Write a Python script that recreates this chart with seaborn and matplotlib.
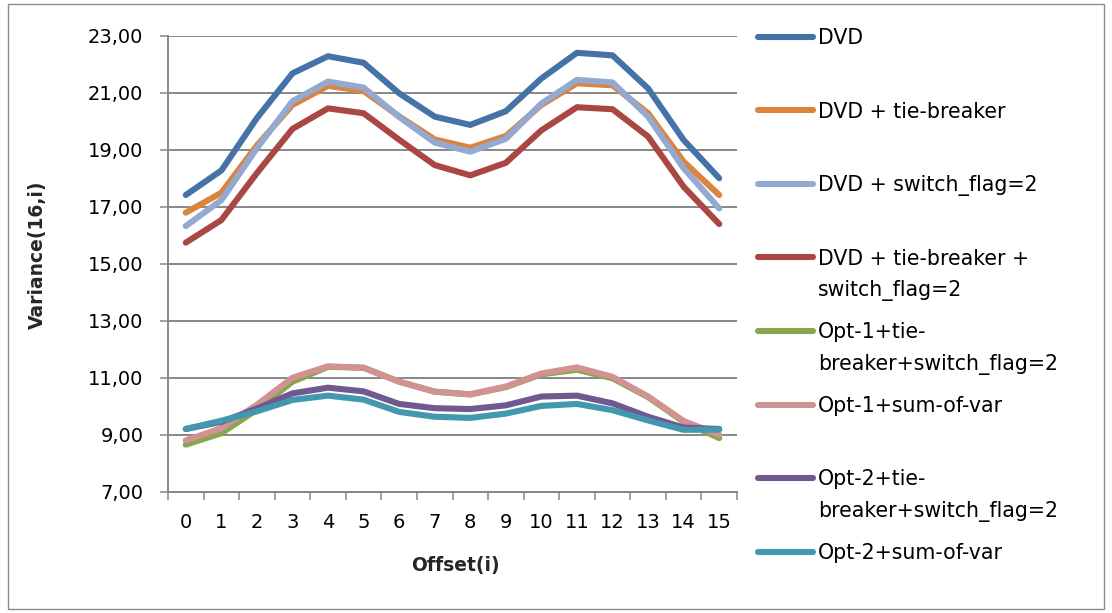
import numpy as np
import pandas as pd
import seaborn as sns
import matplotlib.pyplot as plt
from matplotlib.lines import Line2D
from matplotlib.patches import Rectangle
from matplotlib.ticker import FuncFormatter, FixedLocator

# ---- data ----
offsets = list(range(16))
series_names = [
    "DVD",
    "DVD + tie-breaker",
    "DVD + switch_flag=2",
    "DVD + tie-breaker +\nswitch_flag=2",
    "Opt-1+tie-\nbreaker+switch_flag=2",
    "Opt-1+sum-of-var",
    "Opt-2+tie-\nbreaker+switch_flag=2",
    "Opt-2+sum-of-var",
]
dvd = [17.41, 18.27, 20.11, 21.68, 22.28, 22.05, 20.98, 20.16, 19.87, 20.35, 21.50, 22.40, 22.31, 21.15, 19.34, 18.00]
dvd_tie = [16.79, 17.49, 19.15, 20.57, 21.24, 21.06, 20.17, 19.36, 19.07, 19.48, 20.57, 21.33, 21.26, 20.28, 18.58, 17.41]
dvd_switch = [16.32, 17.23, 19.05, 20.70, 21.39, 21.18, 20.15, 19.25, 18.93, 19.38, 20.62, 21.45, 21.36, 20.16, 18.35, 16.94]
dvd_tie_switch = [15.74, 16.53, 18.18, 19.73, 20.45, 20.28, 19.35, 18.46, 18.10, 18.54, 19.68, 20.49, 20.42, 19.46, 17.70, 16.39]
opt1_tie_switch = [8.65, 9.05, 9.88, 10.86, 11.38, 11.35, 10.86, 10.51, 10.41, 10.67, 11.12, 11.28, 10.98, 10.32, 9.45, 8.88]
opt1_sum = [8.80, 9.23, 10.05, 11.00, 11.40, 11.35, 10.86, 10.51, 10.42, 10.69, 11.15, 11.36, 11.03, 10.34, 9.48, 9.00]
opt2_tie_switch = [9.20, 9.45, 9.92, 10.45, 10.65, 10.52, 10.08, 9.93, 9.90, 10.03, 10.34, 10.37, 10.10, 9.63, 9.25, 9.20]
opt2_sum = [9.20, 9.49, 9.82, 10.22, 10.37, 10.23, 9.80, 9.63, 9.59, 9.74, 10.01, 10.08, 9.86, 9.50, 9.17, 9.18]
y_ticks = [7, 9, 11, 13, 15, 17, 19, 21, 23]

all_values = [dvd, dvd_tie, dvd_switch, dvd_tie_switch,
              opt1_tie_switch, opt1_sum, opt2_tie_switch, opt2_sum]
colors = ["#4572A7", "#DB843D", "#93A9CF", "#AA4643",
          "#89A54E", "#D19392", "#71588F", "#4198AF"]

df = pd.concat(
    [pd.DataFrame({"offset": offsets, "variance": vals, "series": name})
     for name, vals in zip(series_names, all_values)],
    ignore_index=True,
)

# ---- figure ----
sns.set_theme(style="white")
plt.rcParams["font.family"] = ["DejaVu Sans"]

W, H = 1112, 613
fig = plt.figure(figsize=(W / 100, H / 100), dpi=100)

def fx(px):
    return px / W

def fy(py):
    return 1 - py / H

ax_left, ax_right, ax_top, ax_bottom = 168, 737, 35.7, 491.7
ax = fig.add_axes([fx(ax_left), fy(ax_bottom), fx(ax_right - ax_left), (ax_bottom - ax_top) / H])

sns.lineplot(
    data=df, x="offset", y="variance", hue="series",
    hue_order=series_names, palette=colors, linewidth=4.4,
    legend=False, ax=ax, solid_capstyle="round", solid_joinstyle="round",
)

grid_c = "#878787"
ax.set_xlim(-0.5, 15.5)
ax.set_ylim(7, 23)
ax.set_yticks(y_ticks)
ax.yaxis.set_major_formatter(FuncFormatter(lambda v, _: f"{v:.2f}".replace(".", ",")))
ax.set_xticks(offsets)
ax.set_xticklabels([str(o) for o in offsets])
ax.xaxis.set_minor_locator(FixedLocator(np.arange(-0.5, 16, 1.0)))

ax.grid(axis="y", color=grid_c, linewidth=1.4)
ax.set_axisbelow(True)
for side in ["top", "right"]:
    ax.spines[side].set_visible(False)
for side in ["left", "bottom"]:
    ax.spines[side].set_color(grid_c)
    ax.spines[side].set_linewidth(1.4)

tick_font = 14
ax.tick_params(axis="y", which="major", length=5.8, width=1.1, color=grid_c,
               direction="out", pad=12, labelsize=tick_font, labelcolor="black", left=True)
ax.tick_params(axis="x", which="major", length=0, pad=15, labelsize=tick_font, labelcolor="black")
ax.tick_params(axis="x", which="minor", length=5.8, width=1.1, color=grid_c,
               direction="out", bottom=True)

ax.set_xlabel("Offset(i)", fontsize=13.5, fontweight="bold")
ax.set_ylabel("Variance(16,i)", fontsize=13.5, fontweight="bold")
ax.xaxis.set_label_coords((455 - ax_left) / (ax_right - ax_left), -(556 - ax_bottom) / (ax_bottom - ax_top))
ax.yaxis.set_label_coords((47 - ax_left) / (ax_right - ax_left), 0.52)

# ---- legend on the right ----
leg_font = 14.8
em_px = leg_font * 100 / 72
first_y, step_y, line_gap = 36.5, 73.6, 31.7
for i, (name, col) in enumerate(zip(series_names, colors)):
    cy = first_y + i * step_y
    fig.add_artist(Line2D([fx(758), fx(813)], [fy(cy), fy(cy)], transform=fig.transFigure,
                          color=col, linewidth=4.4, solid_capstyle="round"))
    for k, part in enumerate(name.split("\n")):
        base = cy + k * line_gap + 0.36 * em_px
        fig.text(fx(818), fy(base), part, fontsize=leg_font, va="baseline", ha="left", color="black")

# chart frame
fig.add_artist(Rectangle((fx(8), fy(609)), fx(1104 - 8), (609 - 4) / H, transform=fig.transFigure,
                         fill=False, edgecolor="#8c8c8c", linewidth=1.0))

fig.savefig("out.png", dpi=100, facecolor="white")
